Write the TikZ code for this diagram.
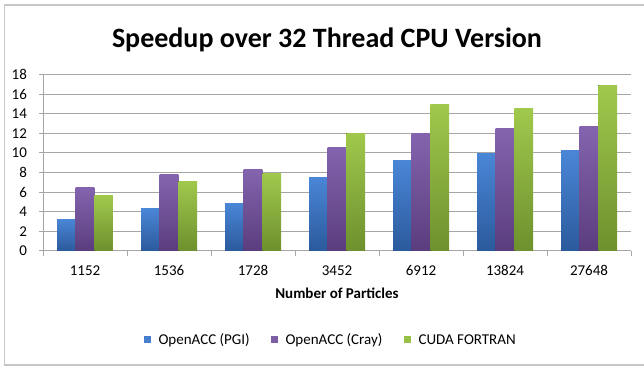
\documentclass[tikz,border=0pt]{standalone}
\usepackage{fontspec}
\setmainfont{Carlito}
\usetikzlibrary{positioning}

\definecolor{pgitop}{HTML}{4A86D6}
\definecolor{pgibot}{HTML}{2B5A9C}
\definecolor{craytop}{HTML}{8464AE}
\definecolor{craybot}{HTML}{5A3D7E}
\definecolor{cudatop}{HTML}{A0C84C}
\definecolor{cudabot}{HTML}{6E902E}
\definecolor{gridgray}{HTML}{A6A6A6}

\tikzset{
  pgibar/.style={top color=pgitop, bottom color=pgibot, draw=none},
  craybar/.style={top color=craytop, bottom color=craybot, draw=none},
  cudabar/.style={top color=cudatop, bottom color=cudabot, draw=none},
  gridline/.style={gridgray, line width=0.9pt},
  ticklabel/.style={font=\fontsize{15}{17}\selectfont},
  legendbox/.style={minimum size=7pt, inner sep=0pt}
}

\begin{document}
\begin{tikzpicture}
[x=1pt,y=1pt]
  \useasboundingbox (0,0) rectangle (644,366);
  \fill[white] (0,0) rectangle (644,366);
  \draw[gray!45, line width=1.2pt] (645,361) -- (4.5,361) -- (4.5,1) -- (645,1);

  \node (title) at (327,326) {\fontsize{28}{32}\selectfont\bfseries Speedup over 32 Thread CPU Version};

  \begin{scope}[shift={(43,115.3)}, x=84pt, y=9.78pt]
    % grid and axes
    \foreach \y in {2,4,...,18}
      \draw[gridline] (0,\y) -- (7,\y);
    \foreach \y in {0,2,...,18}
    {
      \draw[gridgray, line width=0.8pt] (-0.05,\y) -- (0,\y);
      \draw (-0.15,\y) node[anchor=east, ticklabel] (ylab\y) {\y};
    }
    \draw[gridgray, line width=0.9pt] (0,0) -- (0,18);
    \draw[gridgray, line width=0.9pt] (0,0) -- (7,0);
    \foreach \x in {0,...,7}
      \draw[gridgray, line width=0.8pt] (\x,0) -- (\x,-0.5);

    % bars
    \foreach \v [count=\i from 0] in {3.2,4.3,4.8,7.5,9.2,9.9,10.2}
      \fill[pgibar] (\i+0.1667,0) rectangle (\i+0.3889,\v);
    \foreach \v [count=\i from 0] in {6.5,7.8,8.3,10.6,12.0,12.5,12.7}
      \fill[craybar] (\i+0.3889,0) rectangle (\i+0.6111,\v);
    \foreach \v [count=\i from 0] in {5.6,7.1,7.9,12.0,14.9,14.5,16.9}
      \fill[cudabar] (\i+0.6111,0) rectangle (\i+0.8333,\v);

    % categories
    \foreach \n [count=\i from 0] in {1152,1536,1728,3452,6912,13824,27648}
      \draw (\i+0.5,-2.05) node[ticklabel] (xlab\i) {\n};
    \node (xtitle) at (3.5,-4.35) {\fontsize{15}{17}\selectfont\bfseries Number of Particles};
  \end{scope}

  % legend
  \node[anchor=west, ticklabel] (lgpgi) at (155,26) {OpenACC (PGI)};
  \node[legendbox, fill=pgitop!85!pgibot, left=4pt of lgpgi] (boxpgi) {};
  \node[anchor=west, ticklabel] (lgcray) at (282,26) {OpenACC (Cray)};
  \node[legendbox, fill=craytop!85!craybot, left=4pt of lgcray] (boxcray) {};
  \node[anchor=west, ticklabel] (lgcuda) at (415,26) {CUDA FORTRAN};
  \node[legendbox, fill=cudatop!85!cudabot, left=4pt of lgcuda] (boxcuda) {};
\end{tikzpicture}
\end{document}
